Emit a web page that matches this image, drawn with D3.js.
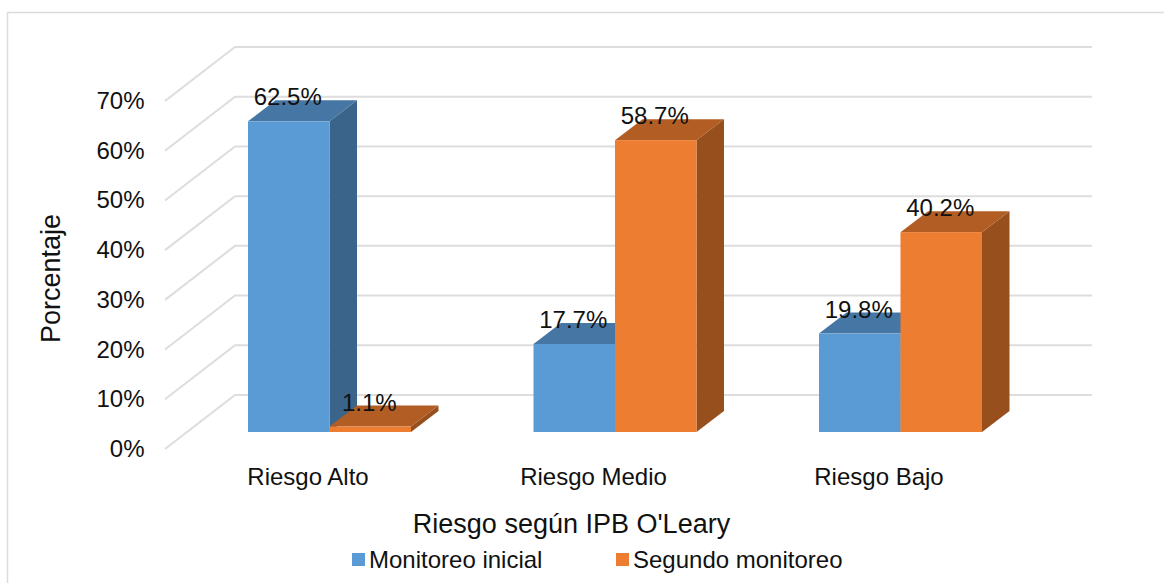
<!DOCTYPE html>
<html><head><meta charset="utf-8">
<script src="https://cdn.jsdelivr.net/npm/d3@7"></script>
<style>
html,body{margin:0;padding:0;background:#fff}
svg{display:block}
text{font-family:"Liberation Sans",Arial,sans-serif;fill:#111}
</style></head><body>
<svg id="chart" width="1164" height="583"></svg>
<script>
const categories = ["Riesgo Alto", "Riesgo Medio", "Riesgo Bajo"];
const seriesNames = ["Monitoreo inicial", "Segundo monitoreo"];
const monitoreoInicial = [62.5, 17.7, 19.8];
const segundoMonitoreo = [1.1, 58.7, 40.2];
const yTicks = [0, 10, 20, 30, 40, 50, 60, 70];

const faces = [
  {front: "#5b9bd5", top: "#4676a3", side: "#3a6489"},
  {front: "#ed7d31", top: "#b25d24", side: "#964f1d"}
];

const svg = d3.select("#chart");

// Outer chart frame: left and top edges only
svg.append("path").attr("d", "M7.5,583V12.5H1164")
  .attr("fill", "none").attr("stroke", "#dcdcdc").attr("stroke-width", 1.5);

// Wall scale sits at the rear of the box; the floor runs forward and to the left
const yWall = d3.scaleLinear().domain([0, 70]).range([395, 47]);
const floorDepth = {x: -70, y: 54};
const wallX = d3.scaleLinear().domain([0, 1]).range([235, 1092]);

const grid = svg.append("g").attr("fill", "none").attr("stroke", "#dddddd").attr("stroke-width", 2);
yTicks.forEach(t => {
  const y = yWall(t);
  grid.append("path").attr("d", d3.line()([
    [wallX(0) + floorDepth.x, y + floorDepth.y],
    [wallX(0), y],
    [wallX(1), y]
  ]));
});

// Bars stand partway into the floor
const yBar = d3.scaleLinear().domain([0, 70]).range([432, 84]);
const groupX = d3.scaleBand().domain(categories).range([248, 248 + 285.5 * 3]).paddingInner(0).paddingOuter(0);
const barWidth = 81.5;
const depth = {x: 27.5, y: -21};

const bars = [];
categories.forEach((c, i) => {
  bars.push({c, s: 0, v: monitoreoInicial[i]});
  bars.push({c, s: 1, v: segundoMonitoreo[i]});
});

const poly = pts => d3.line()(pts) + "Z";
const barG = svg.append("g");
bars.forEach(b => {
  const x0 = groupX(b.c) + b.s * barWidth, x1 = x0 + barWidth;
  const yT = yBar(b.v), yB = yBar(0);
  const f = faces[b.s];
  const g = barG.append("g");
  g.append("path").attr("fill", f.side)
    .attr("d", poly([[x1, yT], [x1 + depth.x, yT + depth.y], [x1 + depth.x, yB + depth.y], [x1, yB]]));
  g.append("path").attr("fill", f.top)
    .attr("d", poly([[x0, yT], [x0 + depth.x, yT + depth.y], [x1 + depth.x, yT + depth.y], [x1, yT]]));
  g.append("rect").attr("fill", f.front)
    .attr("x", x0).attr("y", yT).attr("width", barWidth).attr("height", yB - yT);
});

// Value labels straddle the top face of each bar
bars.forEach(b => {
  const x0 = groupX(b.c) + b.s * barWidth;
  svg.append("text").attr("x", x0 + barWidth / 2 - 1)
    .attr("y", yBar(b.v) - 16).attr("text-anchor", "middle")
    .attr("font-size", 24).text(b.v.toFixed(1) + "%");
});

// Vertical axis labels
yTicks.forEach(t => {
  svg.append("text").attr("x", 144.5).attr("y", yWall(t) + floorDepth.y + 8)
    .attr("text-anchor", "end").attr("font-size", 24).text(t + "%");
});

categories.forEach(c => {
  svg.append("text").attr("x", groupX(c) + 60)
    .attr("y", 485).attr("text-anchor", "middle").attr("font-size", 24).text(c);
});

svg.append("text").attr("x", 571.5).attr("y", 533).attr("text-anchor", "middle")
  .attr("font-size", 27).text("Riesgo según IPB O'Leary");
svg.append("text").attr("transform", "translate(60,278.5) rotate(-90)")
  .attr("text-anchor", "middle").attr("font-size", 27).text("Porcentaje");

// Legend
const legendX = [352, 616];
seriesNames.forEach((n, i) => {
  svg.append("rect").attr("x", legendX[i]).attr("y", 553).attr("width", 13).attr("height", 13)
    .attr("fill", faces[i].front);
  svg.append("text").attr("x", legendX[i] + 17).attr("y", 568).attr("font-size", 24).text(n);
});
</script>
</body></html>
